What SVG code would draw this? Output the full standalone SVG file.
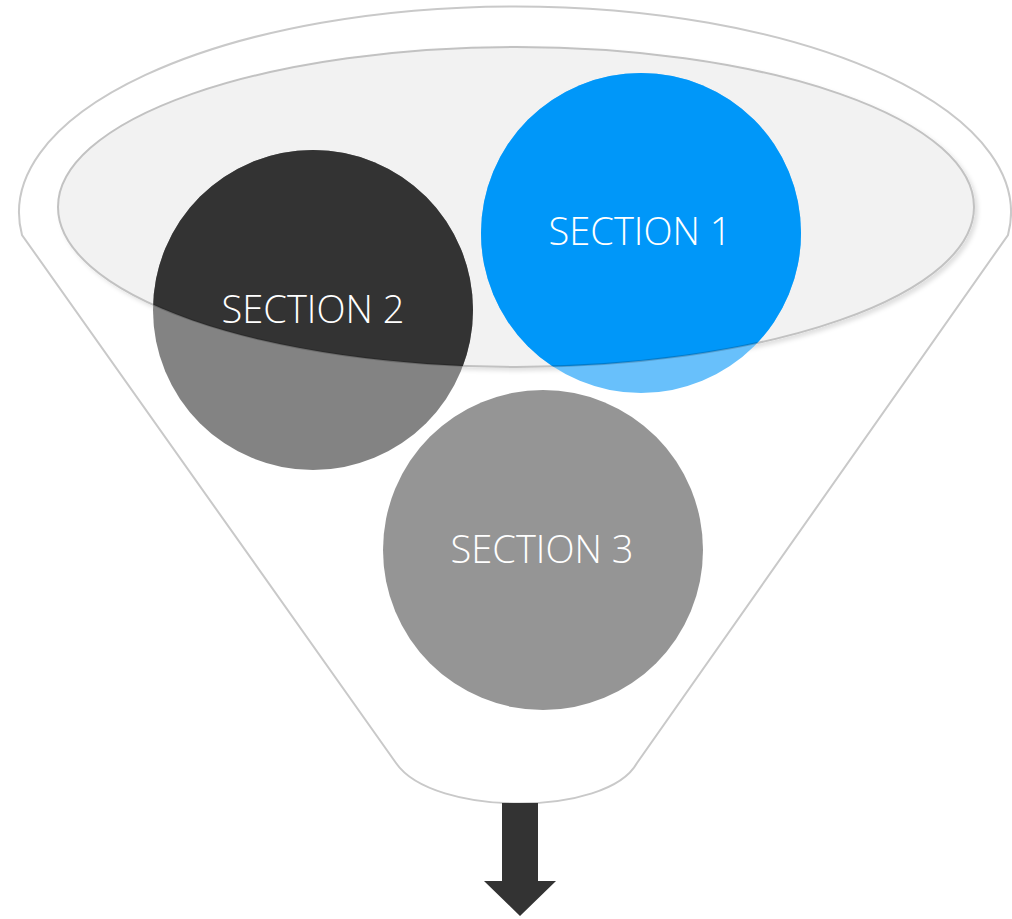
<svg xmlns="http://www.w3.org/2000/svg" width="1012" height="919" viewBox="0 0 1012 919">
<style>
.label{font-family:"Open Sans","Liberation Sans",sans-serif;font-size:38px;font-weight:300;fill:#ffffff;text-anchor:middle}
.funnel{fill:#ffffff;stroke:#C9C9C9;stroke-width:2}
</style>
<defs>
<clipPath id="mouth"><ellipse cx="516" cy="207" rx="458" ry="160"/></clipPath>
<clipPath id="discs"><circle cx="313" cy="310" r="160"/><circle cx="641" cy="233" r="160"/></clipPath>
<filter id="sh" x="-5%" y="-10%" width="110%" height="125%">
<feDropShadow dx="3" dy="3" stdDeviation="2" flood-color="#000000" flood-opacity="0.12"/>
</filter>
</defs>
<g id="funnel">
<path class="funnel" d="M22,235 A496,206 0 1 1 1008,235 L637,763 C607,817 433,817 396,763 Z"/>
<ellipse cx="516" cy="207" rx="458" ry="160" fill="#F2F2F2" stroke="#C2C2C2" stroke-width="2" filter="url(#sh)"/>
</g>
<g id="section2">
<circle cx="313" cy="310" r="160" fill="#838383"/>
<circle cx="313" cy="310" r="160" fill="#333333" clip-path="url(#mouth)"/>
</g>
<g id="section1">
<circle cx="641" cy="233" r="160" fill="#68C0FB"/>
<circle cx="641" cy="233" r="160" fill="#0097F9" clip-path="url(#mouth)"/>
</g>
<g id="section3">
<circle cx="543" cy="550" r="160" fill="#959595"/>
</g>
<ellipse cx="516" cy="207" rx="458" ry="160" fill="none" stroke="#000000" stroke-opacity="0.18" stroke-width="2" clip-path="url(#discs)"/>
<text class="label" x="640" y="245">SECTION 1</text>
<text class="label" x="313" y="323">SECTION 2</text>
<text class="label" x="542" y="563">SECTION 3</text>
<g id="connectors">
<polygon points="502,803 538,803 538,881 556,881 520,916 484,881 502,881" fill="#333333"/>
</g>
</svg>
